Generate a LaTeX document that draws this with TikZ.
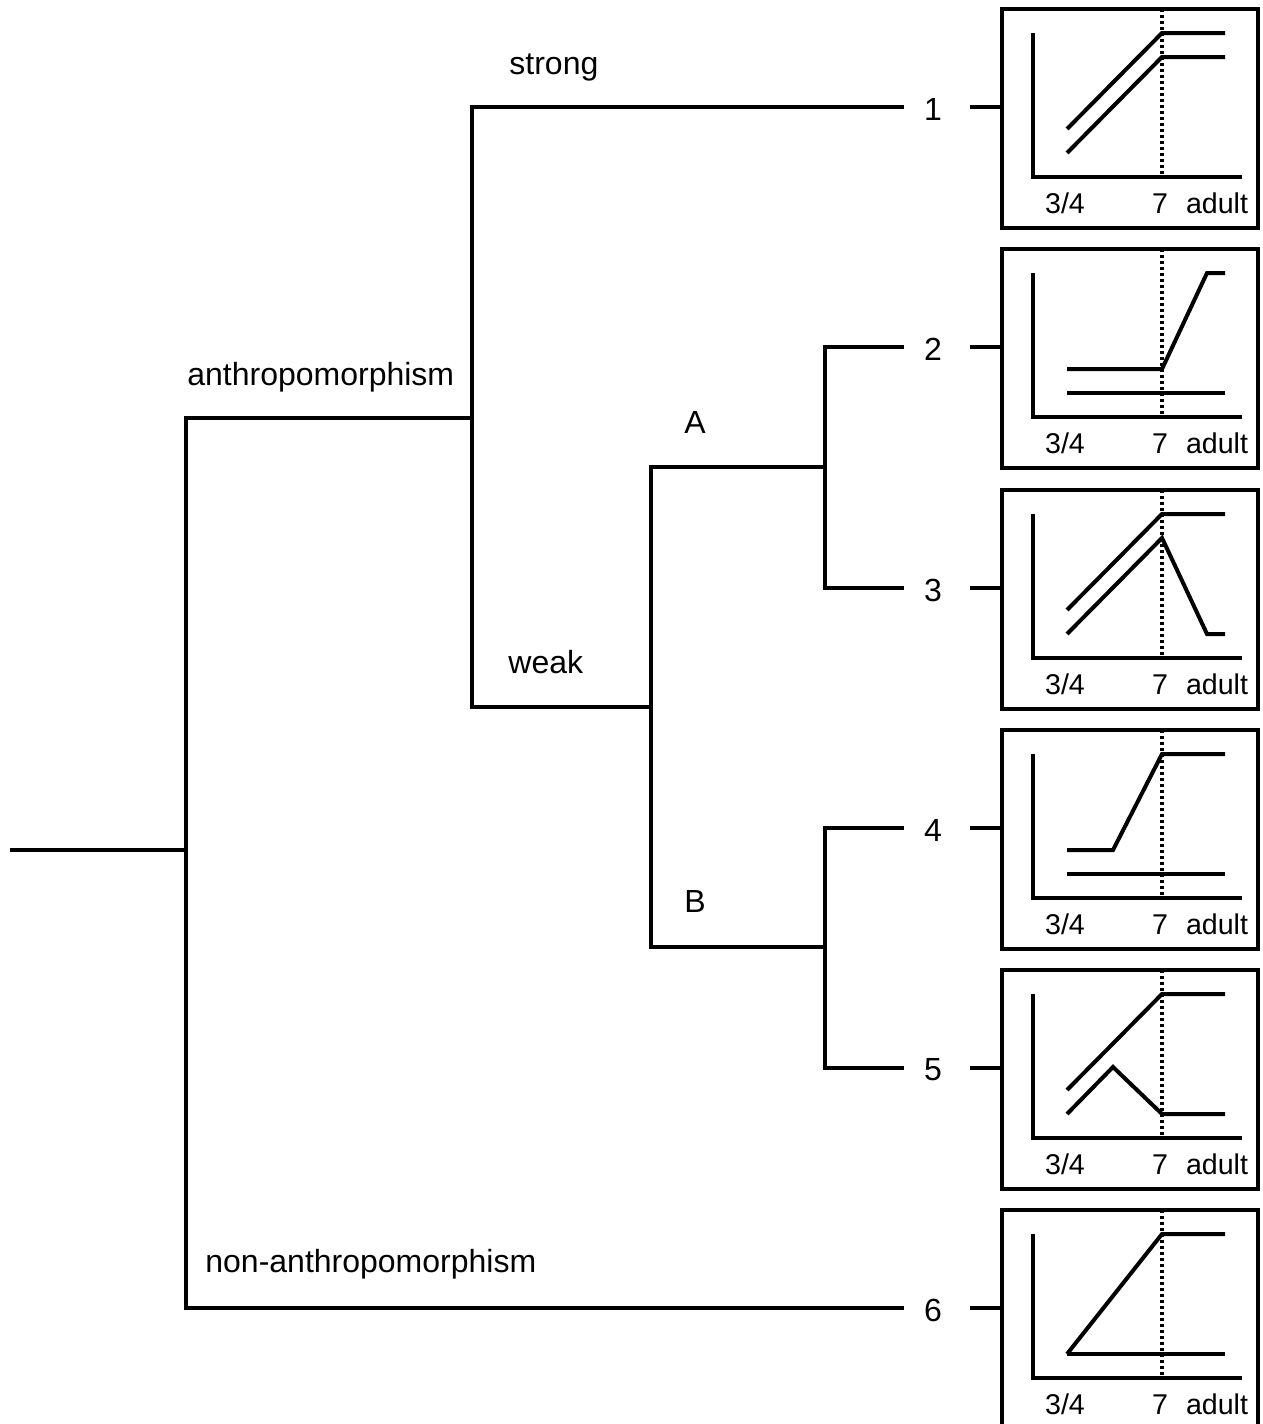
\documentclass[tikz,border=0pt]{standalone}
\usepackage{fontspec}
\setmainfont{Liberation Sans}
\usepackage{tikz}

\tikzset{
  tree/.style={line width=1.6pt},
  lbl/.style={inner sep=0pt, font=\fontsize{16}{19}\selectfont},
  numlbl/.style={inner xsep=10pt, inner ysep=0pt, font=\fontsize{16}{19}\selectfont},
  panelbox/.style={draw, line width=2pt, inner sep=0pt, outer sep=0pt,
    minimum width=128pt, minimum height=109.5pt},
  axis/.style={line width=2pt},
  ageline/.style={line width=2pt, dash pattern=on 1.6pt off 1.4pt},
  curve/.style={line width=2pt},
  agelbl/.style={inner sep=0pt, anchor=base, font=\fontsize{14.3}{17}\selectfont},
}

\begin{document}
\begin{tikzpicture}[x=0.5pt, y=-0.5pt]
\useasboundingbox (0,0) rectangle (1263,1424);

% forks of the tree
\coordinate (root) at (10,850);
\coordinate (rootfork) at (186,850);
\coordinate (anfork) at (472,418);
\coordinate (weakfork) at (651,707);
\coordinate (afork) at (825,467);
\coordinate (bfork) at (825,947);

% outcomes and their panels
\foreach \k/\y in {1/107,2/347,3/588,4/828,5/1068,6/1308} {
  \node[numlbl] (n\k) at (933,\y+2) {\k};
  \node[panelbox] (p\k) at (1130,\y+11.5) {};
  \begin{scope}[shift={(p\k.north west)}]
    \draw[axis] (31,24) -- (31,168) -- (240,168);
    \draw[ageline] (160,0) -- (160,168);
    \node[agelbl] (p\k-young) at (63,204) {3/4};
    \node[agelbl] (p\k-seven) at (158,204) {7};
    \node[agelbl] (p\k-adult) at (215,204) {adult};
  \end{scope}
  \draw[tree, shorten <=4pt] (n\k.east |- p\k.west |- 0,\y) -- (p\k.west |- 0,\y);
}

% branches
\draw[tree] (root) -- (rootfork);
\draw[tree] (n6.west |- 0,1308) -| (rootfork |- anfork) -- (anfork);
\draw[tree] (n1.west |- 0,107) -| (anfork |- weakfork) -- (weakfork);
\draw[tree] (afork) -- (afork -| weakfork) -- (bfork -| weakfork) -- (bfork);
\draw[tree] (n2.west |- 0,347) -| (afork |- 0,588) -- (n3.west |- 0,588);
\draw[tree] (n4.west |- 0,828) -| (bfork |- 0,1068) -- (n5.west |- 0,1068);

% branch labels
\node[lbl, anchor=base west] (strong) at (509,74) {strong};
\node[lbl, anchor=base west] (anthro) at (187,385) {anthropomorphism};
\node[lbl, anchor=base west] (weak) at (508,673) {weak};
\node[lbl, anchor=base] (brA) at (695,433) {A};
\node[lbl, anchor=base] (brB) at (695,912) {B};
\node[lbl, anchor=base west] (nonanthro) at (205,1272) {non-anthropomorphism};

% curves
\begin{scope}[shift={(p1.north west)}]
  \draw[curve] (65,120) -- (160,24) -- (223,24);
  \draw[curve] (65,144) -- (160,48) -- (223,48);
\end{scope}
\begin{scope}[shift={(p2.north west)}]
  \draw[curve] (65,120) -- (160,120) -- (205,24) -- (223,24);
  \draw[curve] (65,144) -- (223,144);
\end{scope}
\begin{scope}[shift={(p3.north west)}]
  \draw[curve] (65,120) -- (160,24) -- (223,24);
  \draw[curve] (65,144) -- (160,48) -- (205,144) -- (223,144);
\end{scope}
\begin{scope}[shift={(p4.north west)}]
  \draw[curve] (65,120) -- (111,120) -- (160,24) -- (223,24);
  \draw[curve] (65,144) -- (223,144);
\end{scope}
\begin{scope}[shift={(p5.north west)}]
  \draw[curve] (65,120) -- (160,24) -- (223,24);
  \draw[curve] (65,144) -- (111,97) -- (160,144) -- (223,144);
\end{scope}
\begin{scope}[shift={(p6.north west)}]
  \draw[curve] (65,144) -- (160,24) -- (223,24);
  \draw[curve] (65,144) -- (223,144);
\end{scope}
\end{tikzpicture}
\end{document}
